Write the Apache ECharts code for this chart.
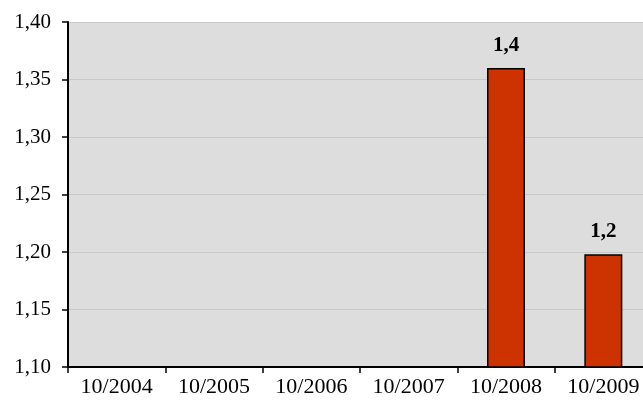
<!DOCTYPE html>
<html>
<head>
<meta charset="utf-8">
<script src="https://cdn.jsdelivr.net/npm/echarts@6/dist/echarts.min.js"></script>
<style>
html, body { margin: 0; padding: 0; background: #fff; overflow: hidden; }
#chart { width: 653px; height: 406px; }
</style>
</head>
<body>
<div id="chart"></div>
<script>
var categories = ['10/2004', '10/2005', '10/2006', '10/2007', '10/2008', '10/2009'];
var values = [null, null, null, null, 1.36, 1.198];
var yTicks = [1.10, 1.15, 1.20, 1.25, 1.30, 1.35, 1.40];

var chart = echarts.init(document.getElementById('chart'));

function comma(v, d) {
    return v.toFixed(d).replace('.', ',');
}

chart.setOption({
    animation: false,
    grid: {
        left: 68,
        right: 1,
        top: 22,
        bottom: 39,
        show: true,
        backgroundColor: '#DDDDDD',
        borderWidth: 0
    },
    xAxis: {
        type: 'category',
        data: categories,
        axisLine: { lineStyle: { color: '#000', width: 2 } },
        axisTick: { show: true, length: 6, lineStyle: { color: '#000', width: 1.5 } },
        axisLabel: {
            color: '#000',
            fontFamily: 'Liberation Serif',
            fontSize: 22,
            margin: 9
        }
    },
    yAxis: {
        type: 'value',
        min: yTicks[0],
        max: yTicks[yTicks.length - 1],
        interval: 0.05,
        axisLine: { show: true, lineStyle: { color: '#000', width: 2 } },
        axisTick: { show: true, length: 6, lineStyle: { color: '#000', width: 1.5 } },
        splitLine: { lineStyle: { color: '#C8C8C8', width: 1 } },
        axisLabel: {
            color: '#000',
            fontFamily: 'Liberation Serif',
            fontSize: 21,
            margin: 17,
            formatter: function(v) { return comma(v, 2); }
        }
    },
    series: [{
        type: 'bar',
        data: values,
        barWidth: 38,
        itemStyle: {
            color: '#CC3300',
            borderColor: '#000',
            borderWidth: 1.5
        },
        label: {
            show: true,
            position: 'top',
            distance: 12,
            color: '#000',
            fontFamily: 'Liberation Serif',
            fontSize: 21,
            fontWeight: 'bold',
            formatter: function(p) { return comma(p.value, 1); }
        }
    }]
});
</script>
</body>
</html>
